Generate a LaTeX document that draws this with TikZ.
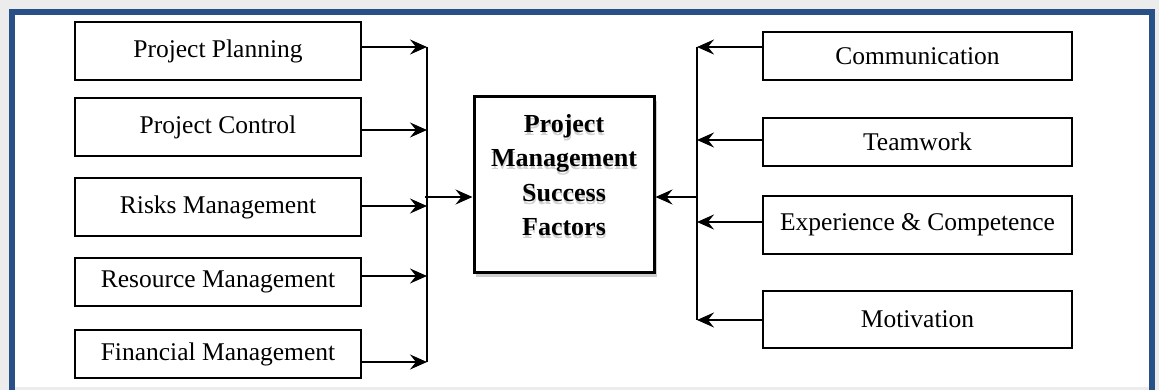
\documentclass[tikz,border=0pt]{standalone}
\usepackage{fontspec}
\setmainfont{Liberation Serif}
\usetikzlibrary{arrows.meta}
\definecolor{framebl}{RGB}{40,80,135}
\definecolor{bggray}{RGB}{236,236,236}
\definecolor{shgray}{RGB}{205,205,205}
\tikzset{
  x=1pt,y=-1pt,
  factor/.style={draw=black,line width=1.3pt,fill=white,inner sep=0pt,
    font=\fontsize{25.5}{30}\selectfont},
  arr/.style={line width=1.9pt,-{Stealth[length=17pt,width=15pt,inset=6pt]}},
  bus/.style={line width=1.9pt},
  mainbox/.style={draw=black,line width=3pt,fill=white,inner sep=0pt},
  titletext/.style={align=center,font=\bfseries\fontsize{26}{34.5}\selectfont}
}
\begin{document}
\begin{tikzpicture}
\useasboundingbox (0,0) rectangle (1159,390);
\clip (0,0) rectangle (1159,390);
% background and frame
\fill[bggray] (0,0) rectangle (1159,390);
\fill[white] (12,12) rectangle (1152,387);
\draw[framebl,line width=6pt] (12,400) -- (12,12) -- (1152,12) -- (1152,400);

% left factors
\node[factor,minimum width=286pt,minimum height=58pt] (pp) at (218,51) {Project Planning};
\node[factor,minimum width=286pt,minimum height=58pt] (pc) at (218,127) {Project Control};
\node[factor,minimum width=286pt,minimum height=58pt] (rm) at (218,207) {Risks Management};
\node[factor,minimum width=286pt,minimum height=48pt] (rs) at (218,282) {Resource Management};
\node[factor,minimum width=286pt,minimum height=48pt] (fm) at (218,354) {Financial Management};

% right factors
\node[factor,minimum width=309pt,minimum height=48pt] (co) at (917.5,56) {Communication};
\node[factor,minimum width=309pt,minimum height=48pt] (tw) at (917.5,142) {Teamwork};
\node[factor,minimum width=309pt,minimum height=58pt] (ex) at (917.5,225) {Experience \& Competence};
\node[factor,minimum width=309pt,minimum height=57pt] (mo) at (917.5,319.5) {Motivation};

% central box with soft shadow
\fill[shgray] (476,101) rectangle (657,277);
\node[mainbox,minimum width=180pt,minimum height=175pt] (pm) at (564,184.5) {};
\node[titletext,text=black!18] at (564.5,178) {Project\\Management\\Success\\Factors};
\node[titletext] (title) at (564,175) {Project\\Management\\Success\\Factors};

% left bus
\coordinate (l1) at (427,47);
\coordinate (l2) at (427,130);
\coordinate (l3) at (427,206);
\coordinate (l4) at (427,276);
\coordinate (l5) at (427,362);
\coordinate (lm) at (425,197);
\draw[bus] (l1) -- (l5);
\draw[arr] (pp.east |- l1) -- (l1);
\draw[arr] (pc.east |- l2) -- (l2);
\draw[arr] (rm.east |- l3) -- (l3);
\draw[arr] (rs.east |- l4) -- (l4);
\draw[arr] (fm.east |- l5) -- (l5);
\draw[arr] (lm) -- (pm.west |- lm);

% right bus
\coordinate (r1) at (697,47);
\coordinate (r2) at (697,140);
\coordinate (r3) at (697,222);
\coordinate (r4) at (697,320);
\coordinate (rmid) at (697,197);
\draw[bus] (r1) -- (r4);
\draw[arr] (co.west |- r1) -- (r1);
\draw[arr] (tw.west |- r2) -- (r2);
\draw[arr] (ex.west |- r3) -- (r3);
\draw[arr] (mo.west |- r4) -- (r4);
\draw[arr] (rmid) -- (pm.east |- rmid);
\end{tikzpicture}
\end{document}
